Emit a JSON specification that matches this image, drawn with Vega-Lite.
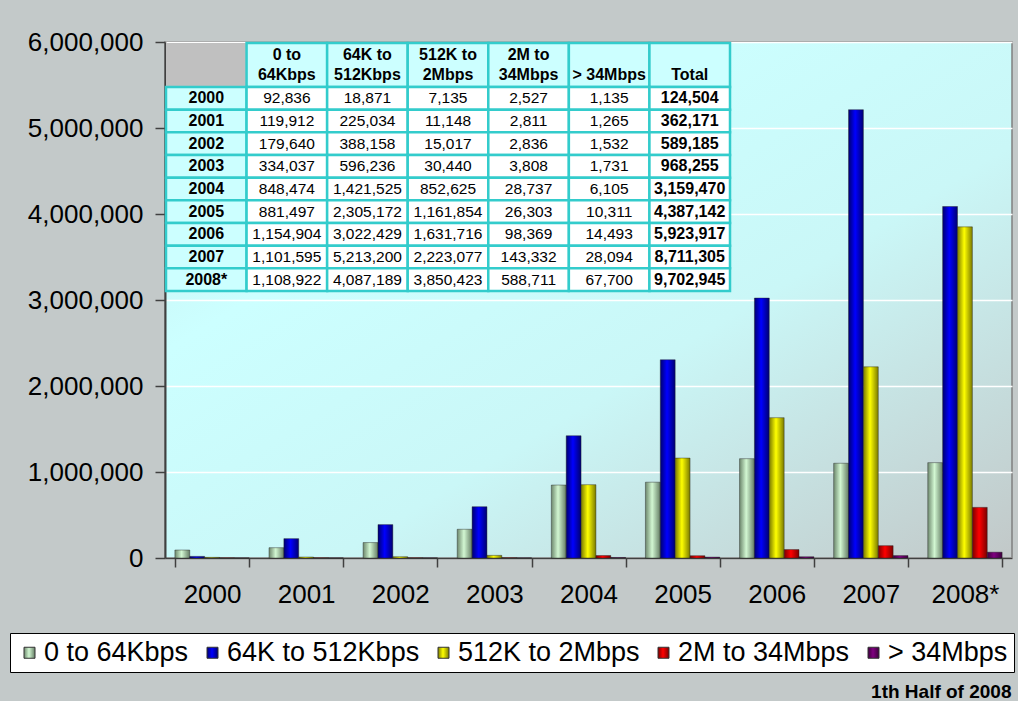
{
  "$schema": "https://vega.github.io/schema/vega-lite/v6.json",
  "width": 847,
  "height": 516,
  "autosize": {"type": "none"},
  "padding": {"left": 165, "top": 42, "right": 6, "bottom": 143},
  "background": "#c3c9c9",
  "config": {
    "font": "Liberation Sans",
    "view": {
      "fill": {"gradient": "linear", "x1": 0, "y1": 0, "x2": 1, "y2": 1, "stops": [
        {"offset": 0, "color": "#c6eaea"},
        {"offset": 0.3, "color": "#ccffff"},
        {"offset": 0.6, "color": "#caf7f7"},
        {"offset": 1, "color": "#c2c8c8"}
      ]},
      "stroke": "#808080",
      "strokeWidth": 1.5
    }
  },
  "datasets": {
    "main": [
      {"year": "2000", "series": "0 to 64Kbps", "value": 92836},
      {"year": "2000", "series": "64K to 512Kbps", "value": 18871},
      {"year": "2000", "series": "512K to 2Mbps", "value": 7135},
      {"year": "2000", "series": "2M to 34Mbps", "value": 2527},
      {"year": "2000", "series": "> 34Mbps", "value": 1135},
      {"year": "2001", "series": "0 to 64Kbps", "value": 119912},
      {"year": "2001", "series": "64K to 512Kbps", "value": 225034},
      {"year": "2001", "series": "512K to 2Mbps", "value": 11148},
      {"year": "2001", "series": "2M to 34Mbps", "value": 2811},
      {"year": "2001", "series": "> 34Mbps", "value": 1265},
      {"year": "2002", "series": "0 to 64Kbps", "value": 179640},
      {"year": "2002", "series": "64K to 512Kbps", "value": 388158},
      {"year": "2002", "series": "512K to 2Mbps", "value": 15017},
      {"year": "2002", "series": "2M to 34Mbps", "value": 2836},
      {"year": "2002", "series": "> 34Mbps", "value": 1532},
      {"year": "2003", "series": "0 to 64Kbps", "value": 334037},
      {"year": "2003", "series": "64K to 512Kbps", "value": 596236},
      {"year": "2003", "series": "512K to 2Mbps", "value": 30440},
      {"year": "2003", "series": "2M to 34Mbps", "value": 3808},
      {"year": "2003", "series": "> 34Mbps", "value": 1731},
      {"year": "2004", "series": "0 to 64Kbps", "value": 848474},
      {"year": "2004", "series": "64K to 512Kbps", "value": 1421525},
      {"year": "2004", "series": "512K to 2Mbps", "value": 852625},
      {"year": "2004", "series": "2M to 34Mbps", "value": 28737},
      {"year": "2004", "series": "> 34Mbps", "value": 6105},
      {"year": "2005", "series": "0 to 64Kbps", "value": 881497},
      {"year": "2005", "series": "64K to 512Kbps", "value": 2305172},
      {"year": "2005", "series": "512K to 2Mbps", "value": 1161854},
      {"year": "2005", "series": "2M to 34Mbps", "value": 26303},
      {"year": "2005", "series": "> 34Mbps", "value": 10311},
      {"year": "2006", "series": "0 to 64Kbps", "value": 1154904},
      {"year": "2006", "series": "64K to 512Kbps", "value": 3022429},
      {"year": "2006", "series": "512K to 2Mbps", "value": 1631716},
      {"year": "2006", "series": "2M to 34Mbps", "value": 98369},
      {"year": "2006", "series": "> 34Mbps", "value": 14493},
      {"year": "2007", "series": "0 to 64Kbps", "value": 1101595},
      {"year": "2007", "series": "64K to 512Kbps", "value": 5213200},
      {"year": "2007", "series": "512K to 2Mbps", "value": 2223077},
      {"year": "2007", "series": "2M to 34Mbps", "value": 143332},
      {"year": "2007", "series": "> 34Mbps", "value": 28094},
      {"year": "2008*", "series": "0 to 64Kbps", "value": 1108922},
      {"year": "2008*", "series": "64K to 512Kbps", "value": 4087189},
      {"year": "2008*", "series": "512K to 2Mbps", "value": 3850423},
      {"year": "2008*", "series": "2M to 34Mbps", "value": 588711},
      {"year": "2008*", "series": "> 34Mbps", "value": 67700}
    ],
    "totals": [
      {"year": "2000", "total": 124504},
      {"year": "2001", "total": 362171},
      {"year": "2002", "total": 589185},
      {"year": "2003", "total": 968255},
      {"year": "2004", "total": 3159470},
      {"year": "2005", "total": 4387142},
      {"year": "2006", "total": 5923917},
      {"year": "2007", "total": 8711305},
      {"year": "2008*", "total": 9702945}
    ],
    "header": [
      {"col": "yr", "row": "h", "label": ""},
      {"col": "0 to 64Kbps", "row": "h", "label": "0 to\n64Kbps"},
      {"col": "64K to 512Kbps", "row": "h", "label": "64K to\n512Kbps"},
      {"col": "512K to 2Mbps", "row": "h", "label": "512K to\n2Mbps"},
      {"col": "2M to 34Mbps", "row": "h", "label": "2M to\n34Mbps"},
      {"col": "> 34Mbps", "row": "h", "label": " \n> 34Mbps"},
      {"col": "Total", "row": "h", "label": " \nTotal"}
    ]
  },
  "layer": [
    {
      "data": {"name": "main"},
      "mark": {"type": "bar", "stroke": "#202020", "strokeWidth": 0.6, "strokeOpacity": 0.7},
      "encoding": {
        "x": {
          "field": "year", "type": "nominal",
          "scale": {"domain": ["2000", "2001", "2002", "2003", "2004", "2005", "2006", "2007", "2008*"], "paddingInner": 0.21, "paddingOuter": 0.105},
          "axis": {
            "title": "1th Half of 2008", "titleFontSize": 19, "titleFontWeight": "bold", "titleColor": "#000000",
            "titleX": 846, "titleY": 133, "titleAlign": "right", "titleBaseline": "middle", "titleAnchor": "end",
            "labelFontSize": 26, "labelColor": "#000000", "labelPadding": 14, "labelAngle": 0,
            "tickBand": "extent", "tickSize": 9, "tickColor": "#404040", "tickWidth": 1.5,
            "domainColor": "#404040", "domainWidth": 1.5, "grid": false
          }
        },
        "xOffset": {
          "field": "series", "type": "nominal",
          "scale": {"domain": ["0 to 64Kbps", "64K to 512Kbps", "512K to 2Mbps", "2M to 34Mbps", "> 34Mbps"], "paddingInner": 0, "paddingOuter": 0}
        },
        "y": {
          "field": "value", "type": "quantitative",
          "scale": {"domain": [0, 6000000], "nice": false},
          "axis": {
            "title": null, "values": [0, 1000000, 2000000, 3000000, 4000000, 5000000, 6000000], "format": ",d",
            "labelFontSize": 26, "labelColor": "#000000", "labelPadding": 12,
            "tickSize": 10, "tickColor": "#404040", "tickWidth": 1.5,
            "domainColor": "#404040", "domainWidth": 2,
            "grid": true, "gridColor": "#ffffff", "gridWidth": 1.5
          }
        },
        "color": {
          "field": "series", "type": "nominal",
          "scale": {
            "domain": ["0 to 64Kbps", "64K to 512Kbps", "512K to 2Mbps", "2M to 34Mbps", "> 34Mbps"],
            "range": [
              {"expr": "{gradient: 'linear', x1: 0, y1: 0, x2: 1, y2: 0, stops: [{offset: 0, color: '#6d876d'}, {offset: 0.45, color: '#d2f7d2'}, {offset: 1, color: '#657d65'}]}"},
              {"expr": "{gradient: 'linear', x1: 0, y1: 0, x2: 1, y2: 0, stops: [{offset: 0, color: '#000070'}, {offset: 0.45, color: '#0000ff'}, {offset: 1, color: '#000070'}]}"},
              {"expr": "{gradient: 'linear', x1: 0, y1: 0, x2: 1, y2: 0, stops: [{offset: 0, color: '#7a7a00'}, {offset: 0.45, color: '#ffff00'}, {offset: 1, color: '#7a7a00'}]}"},
              {"expr": "{gradient: 'linear', x1: 0, y1: 0, x2: 1, y2: 0, stops: [{offset: 0, color: '#7a0000'}, {offset: 0.45, color: '#ff0000'}, {offset: 1, color: '#7a0000'}]}"},
              {"expr": "{gradient: 'linear', x1: 0, y1: 0, x2: 1, y2: 0, stops: [{offset: 0, color: '#3d003d'}, {offset: 0.45, color: '#800080'}, {offset: 1, color: '#3d003d'}]}"}
            ]
          },
          "legend": {
            "orient": "none", "legendX": -155, "legendY": 591, "direction": "horizontal", "title": null,
            "fillColor": "#ffffff", "strokeColor": "#000000", "padding": 6,
            "labelFontSize": 27, "labelColor": "#000000", "labelOffset": 1, "labelLimit": 400,
            "symbolType": "square", "symbolSize": 121, "symbolStrokeColor": "#333333", "symbolStrokeWidth": 1,
            "columnPadding": 10
          }
        }
      }
    },
    {
      "data": {"name": "header"},
      "encoding": {
        "x": {"field": "col", "type": "nominal", "scale": {"domain": ["yr", "0 to 64Kbps", "64K to 512Kbps", "512K to 2Mbps", "2M to 34Mbps", "> 34Mbps", "Total"], "range": [1, 565], "paddingInner": 0, "paddingOuter": 0}, "axis": null},
        "y": {"field": "row", "type": "nominal", "scale": {"domain": ["h"], "range": [1, 45], "paddingInner": 0, "paddingOuter": 0}, "axis": null}
      },
      "layer": [
        {
          "mark": {"type": "rect", "strokeWidth": 2.5},
          "encoding": {
            "fill": {"condition": {"test": "datum.col === 'yr'", "value": "#c0c0c0"}, "value": "#ccffff"},
            "stroke": {"condition": {"test": "datum.col === 'yr'", "value": "transparent"}, "value": "#33cccc"}
          }
        },
        {
          "mark": {"type": "text", "fontWeight": "bold", "fontSize": 16, "lineBreak": "\n", "lineHeight": 20, "baseline": "middle", "dy": -10, "color": "#000000"},
          "encoding": {"text": {"field": "label"}}
        }
      ]
    },
    {
      "encoding": {
        "y": {"field": "year", "type": "nominal", "scale": {"domain": ["2000", "2001", "2002", "2003", "2004", "2005", "2006", "2007", "2008*"], "range": [45, 249], "paddingInner": 0, "paddingOuter": 0}, "axis": null}
      },
      "layer": [
        {
          "data": {"name": "totals"},
          "mark": {"type": "rect", "fill": "#ccffff", "stroke": "#33cccc", "strokeWidth": 2.5},
          "encoding": {"x": {"datum": "yr", "type": "nominal", "scale": {"domain": ["yr", "0 to 64Kbps", "64K to 512Kbps", "512K to 2Mbps", "2M to 34Mbps", "> 34Mbps", "Total"], "range": [1, 565], "paddingInner": 0, "paddingOuter": 0}, "axis": null}}
        },
        {
          "data": {"name": "totals"},
          "mark": {"type": "text", "fontWeight": "bold", "fontSize": 16, "baseline": "middle", "color": "#000000"},
          "encoding": {"x": {"datum": "yr", "type": "nominal"}, "text": {"field": "year"}}
        },
        {
          "data": {"name": "main"},
          "mark": {"type": "rect", "fill": "#ffffff", "stroke": "#33cccc", "strokeWidth": 2.5},
          "encoding": {"x": {"field": "series", "type": "nominal"}}
        },
        {
          "data": {"name": "main"},
          "mark": {"type": "text", "fontSize": 15.5, "baseline": "middle", "color": "#000000"},
          "encoding": {"x": {"field": "series", "type": "nominal"}, "text": {"field": "value", "format": ","}}
        },
        {
          "data": {"name": "totals"},
          "mark": {"type": "rect", "fill": "#ffffff", "stroke": "#33cccc", "strokeWidth": 2.5},
          "encoding": {"x": {"datum": "Total", "type": "nominal"}}
        },
        {
          "data": {"name": "totals"},
          "mark": {"type": "text", "fontWeight": "bold", "fontSize": 16, "baseline": "middle", "color": "#000000"},
          "encoding": {"x": {"datum": "Total", "type": "nominal"}, "text": {"field": "total", "format": ","}}
        }
      ]
    }
  ],
  "resolve": {"scale": {"x": "independent", "y": "independent"}}
}
